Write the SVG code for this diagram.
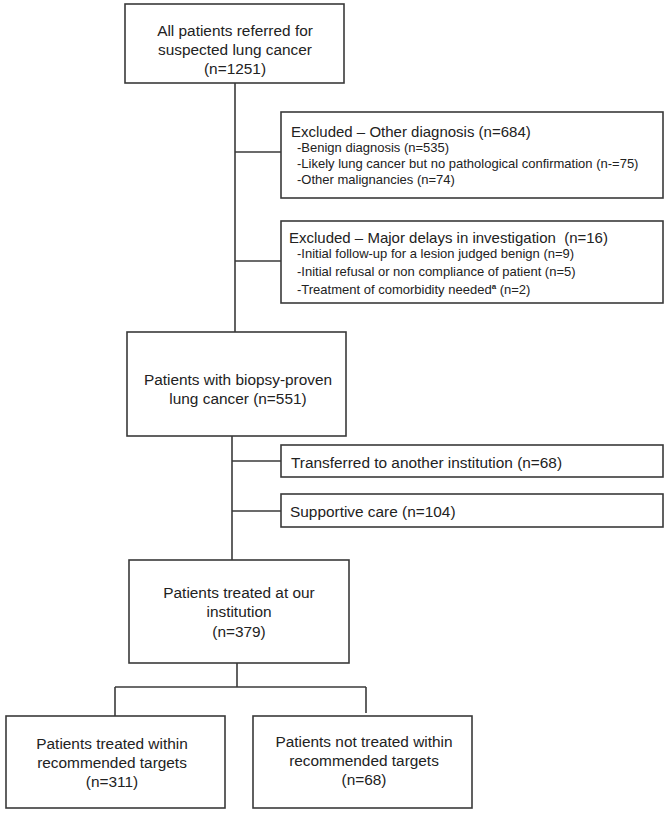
<svg xmlns="http://www.w3.org/2000/svg" width="668" height="817" viewBox="0 0 668 817">
<style>
  .box { fill: #ffffff; stroke: #3a3a3a; stroke-width: 1.6; }
  .conn { fill: none; stroke: #3a3a3a; stroke-width: 1.6; }
  text { font-family: "Liberation Sans", Arial, sans-serif; fill: #222222; }
  .main { font-size: 15.4px; text-anchor: middle; }
  .left { font-size: 15.4px; }
  .title { font-size: 15px; white-space: pre; }
  .sub { font-size: 13px; }
  .sup { font-size: 8px; font-weight: bold; }
</style>
<rect width="668" height="817" fill="#ffffff"/>
<g id="connectors">
  <path class="conn" d="M235 83 V332"/>
  <path class="conn" d="M235 152 H281"/>
  <path class="conn" d="M235 261 H281"/>
  <path class="conn" d="M232 436 V560"/>
  <path class="conn" d="M232 461 H281"/>
  <path class="conn" d="M232 511 H281"/>
  <path class="conn" d="M237 663 V687"/>
  <path class="conn" d="M115 687 H366"/>
  <path class="conn" d="M115 687 V716"/>
  <path class="conn" d="M366 687 V713"/>
</g>
<g id="n1">
  <rect class="box" x="125" y="4" width="219" height="79"/>
  <text class="main" x="235" y="36">All patients referred for</text>
  <text class="main" x="235" y="55">suspected lung cancer</text>
  <text class="main" x="235" y="74">(n=1251)</text>
</g>
<g id="n2">
  <rect class="box" x="281" y="112" width="382" height="86"/>
  <text class="title" x="291" y="137">Excluded – Other diagnosis (n=684)</text>
  <text class="sub" x="297" y="152">-Benign diagnosis (n=535)</text>
  <text class="sub" x="297" y="168">-Likely lung cancer but no pathological confirmation (n-=75)</text>
  <text class="sub" x="297" y="184">-Other malignancies (n=74)</text>
</g>
<g id="n3">
  <rect class="box" x="281" y="221" width="382" height="82"/>
  <text class="title" x="289" y="243">Excluded – Major delays in investigation  (n=16)</text>
  <text class="sub" x="297" y="258">-Initial follow-up for a lesion judged benign (n=9)</text>
  <text class="sub" x="297" y="276">-Initial refusal or non compliance of patient (n=5)</text>
  <text class="sub" x="297" y="294">-Treatment of comorbidity needed<tspan class="sup" dy="-5">a</tspan><tspan dy="5"> (n=2)</tspan></text>
</g>
<g id="n4">
  <rect class="box" x="127" y="332" width="219" height="104"/>
  <text class="main" x="238" y="385">Patients with biopsy-proven</text>
  <text class="main" x="238" y="404">lung cancer (n=551)</text>
</g>
<g id="n5">
  <rect class="box" x="281" y="445" width="382" height="32"/>
  <text class="left" x="291" y="468">Transferred to another institution (n=68)</text>
</g>
<g id="n6">
  <rect class="box" x="281" y="494" width="382" height="33"/>
  <text class="left" x="290" y="517">Supportive care (n=104)</text>
</g>
<g id="n7">
  <rect class="box" x="129" y="560" width="220" height="103"/>
  <text class="main" x="239" y="598">Patients treated at our</text>
  <text class="main" x="239" y="617">institution</text>
  <text class="main" x="239" y="637">(n=379)</text>
</g>
<g id="n8">
  <rect class="box" x="6" y="716" width="219" height="92"/>
  <text class="main" x="112" y="749">Patients treated within</text>
  <text class="main" x="112" y="768">recommended targets</text>
  <text class="main" x="112" y="787">(n=311)</text>
</g>
<g id="n9">
  <rect class="box" x="253" y="716" width="219" height="92"/>
  <text class="main" x="364" y="747">Patients not treated within</text>
  <text class="main" x="364" y="766">recommended targets</text>
  <text class="main" x="364" y="785">(n=68)</text>
</g>
</svg>
